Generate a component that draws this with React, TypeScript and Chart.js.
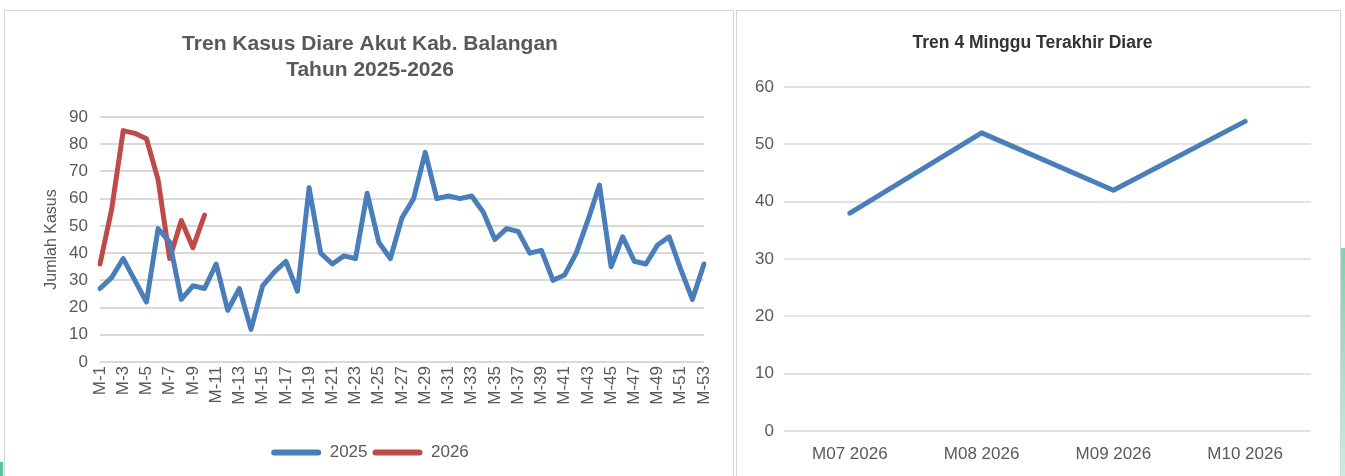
import React, { useEffect, useRef } from "react";
import Chart from "chart.js/auto";

const weekLabels = [
  "M-1", "M-2", "M-3", "M-4", "M-5", "M-6", "M-7", "M-8", "M-9", "M-10",
  "M-11", "M-12", "M-13", "M-14", "M-15", "M-16", "M-17", "M-18", "M-19", "M-20",
  "M-21", "M-22", "M-23", "M-24", "M-25", "M-26", "M-27", "M-28", "M-29", "M-30",
  "M-31", "M-32", "M-33", "M-34", "M-35", "M-36", "M-37", "M-38", "M-39", "M-40",
  "M-41", "M-42", "M-43", "M-44", "M-45", "M-46", "M-47", "M-48", "M-49", "M-50",
  "M-51", "M-52", "M-53",
];

const cases2025 = [
  27, 31, 38, 30, 22, 49, 44, 23, 28, 27,
  36, 19, 27, 12, 28, 33, 37, 26, 64, 40,
  36, 39, 38, 62, 44, 38, 53, 60, 77, 60,
  61, 60, 61, 55, 45, 49, 48, 40, 41, 30,
  32, 40, 52, 65, 35, 46, 37, 36, 43, 46,
  34, 23, 36,
];

const cases2026 = [36, 56, 85, 84, 82, 67, 38, 52, 42, 54];

const mainTitle = ["Tren Kasus Diare Akut Kab. Balangan", "Tahun 2025-2026"];
const yAxisTitle = "Jumlah Kasus";

const recentTitle = "Tren 4 Minggu Terakhir Diare";
const recentLabels = ["M07 2026", "M08 2026", "M09 2026", "M10 2026"];
const recentCases = [38, 52, 42, 54];

const BLUE = "#4a7ebb";
const RED = "#be4b48";
const TEXT = "#595959";
const FONT = "'Liberation Sans', Arial, Helvetica, sans-serif";

function MainChart() {
  const ref = useRef<HTMLCanvasElement | null>(null);
  useEffect(() => {
    if (!ref.current) return;
    const chart = new Chart(ref.current, {
      type: "line",
      data: {
        labels: weekLabels,
        datasets: [
          {
            label: "2025",
            data: cases2025,
            borderColor: BLUE,
            backgroundColor: BLUE,
            borderWidth: 5,
            pointRadius: 0,
            tension: 0,
            borderJoinStyle: "round",
            borderCapStyle: "round",
          },
          {
            label: "2026",
            data: cases2026,
            borderColor: RED,
            backgroundColor: RED,
            borderWidth: 5,
            pointRadius: 0,
            tension: 0,
            borderJoinStyle: "round",
            borderCapStyle: "round",
          },
        ],
      },
      options: {
        animation: false,
        responsive: false,
        devicePixelRatio: 1,
        layout: { padding: { left: 31, right: 28, top: 0, bottom: 5 } },
        plugins: {
          title: {
            display: true,
            text: mainTitle,
            color: TEXT,
            font: { family: FONT, size: 21, weight: "bold", lineHeight: 1.25 },
            padding: { top: 20, bottom: 33.5 },
          },
          legend: {
            position: "bottom",
            labels: {
              boxWidth: 50,
              boxHeight: 6,
              padding: 5,
              useBorderRadius: true,
              borderRadius: 3,
              color: TEXT,
              font: { family: FONT, size: 17 },
              generateLabels: (c: any) =>
                (Chart as any).defaults.plugins.legend.labels
                  .generateLabels(c)
                  .map((l: any) => ({ ...l, fillStyle: l.strokeStyle, lineWidth: 0 })),
            },
          },
          tooltip: { enabled: false },
        },
        scales: {
          x: {
            grid: { display: false, drawTicks: false },
            border: { display: false },
            ticks: {
              autoSkip: false,
              maxRotation: 90,
              minRotation: 90,
              padding: 4,
              color: TEXT,
              font: { family: FONT, size: 17 },
              callback: (_v: any, i: number) => (i % 2 === 0 ? weekLabels[i] : ""),
            },
            afterFit: (s: any) => {
              s.height = 77;
            },
          },
          y: {
            min: 0,
            max: 90,
            ticks: { stepSize: 10, padding: 12, color: TEXT, font: { family: FONT, size: 17 } },
            grid: { color: "#d9d9d9", lineWidth: 2, drawTicks: false },
            border: { display: false },
            title: {
              display: true,
              text: yAxisTitle,
              color: TEXT,
              font: { family: FONT, size: 16 },
              padding: { top: 6.4, bottom: 0 },
            },
            afterFit: (s: any) => {
              s.width = 64;
            },
          },
        },
      },
    } as any);
    return () => chart.destroy();
  }, []);
  return (
    <canvas
      ref={ref}
      width={727}
      height={465}
      style={{ position: "absolute", left: 5, top: 11, width: 727, height: 465 }}
    />
  );
}

function RecentChart() {
  const ref = useRef<HTMLCanvasElement | null>(null);
  useEffect(() => {
    if (!ref.current) return;
    const chart = new Chart(ref.current, {
      type: "line",
      data: {
        labels: recentLabels,
        datasets: [
          {
            label: "Kasus",
            data: recentCases,
            borderColor: BLUE,
            backgroundColor: BLUE,
            borderWidth: 5,
            pointRadius: 0,
            tension: 0,
            borderJoinStyle: "round",
            borderCapStyle: "round",
          },
        ],
      },
      options: {
        animation: false,
        responsive: false,
        devicePixelRatio: 1,
        layout: { padding: { left: 17, right: 29, top: 0, bottom: 0 } },
        plugins: {
          title: {
            display: true,
            text: recentTitle,
            color: "#333333",
            font: { family: FONT, size: 17.5, weight: "bold", lineHeight: 1.2 },
            padding: { top: 22, bottom: 33 },
          },
          legend: { display: false },
          tooltip: { enabled: false },
        },
        scales: {
          x: {
            offset: true,
            grid: { display: false, drawTicks: false },
            border: { display: false },
            ticks: { padding: 13.5, color: TEXT, font: { family: FONT, size: 17 } },
            afterFit: (s: any) => {
              s.height = 45;
            },
          },
          y: {
            min: 0,
            max: 60,
            ticks: { stepSize: 10, padding: 10, color: TEXT, font: { family: FONT, size: 17 } },
            grid: { color: "#e3e3e3", lineWidth: 2, drawTicks: false },
            border: { display: false },
            afterFit: (s: any) => {
              s.width = 30;
            },
          },
        },
      },
    } as any);
    return () => chart.destroy();
  }, []);
  return (
    <canvas
      ref={ref}
      width={603}
      height={465}
      style={{ position: "absolute", left: 737, top: 11, width: 603, height: 465 }}
    />
  );
}

export default function App() {
  return (
    <div
      style={{
        position: "fixed",
        left: 0,
        top: 0,
        width: 1345,
        height: 476,
        overflow: "hidden",
        background: "#ffffff",
      }}
    >
      <div
        style={{
          position: "absolute",
          left: 4,
          top: 10,
          width: 730,
          height: 480,
          boxSizing: "border-box",
          border: "1px solid #d6d6d6",
        }}
      />
      <div
        style={{
          position: "absolute",
          left: 736,
          top: 10,
          width: 605,
          height: 480,
          boxSizing: "border-box",
          border: "1px solid #d6d6d6",
        }}
      />
      <div
        style={{
          position: "absolute",
          left: 1341,
          top: 248,
          width: 4,
          height: 228,
          background: "linear-gradient(to bottom, #7fd1b0, #c9eedf)",
        }}
      />
      <div
        style={{
          position: "absolute",
          left: 0,
          top: 462,
          width: 3,
          height: 14,
          background: "#5bbfa5",
        }}
      />
      <MainChart />
      <RecentChart />
    </div>
  );
}
